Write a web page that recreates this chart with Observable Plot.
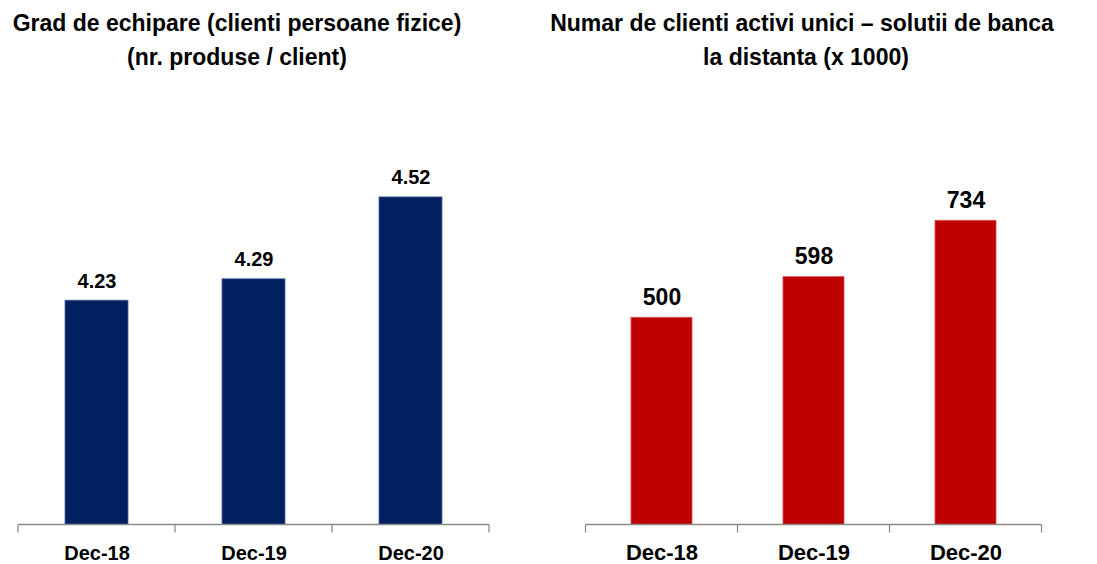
<!DOCTYPE html>
<html><head><meta charset="utf-8">
<script src="https://cdn.jsdelivr.net/npm/d3@7"></script>
<script src="https://cdn.jsdelivr.net/npm/@observablehq/plot@0.6"></script>
<style>
body{margin:0;background:#fff;}
#wrap{position:relative;width:1097px;height:564px;overflow:hidden;font-family:Arial,"Liberation Sans",sans-serif;background:#fff;}
.title{position:absolute;top:6px;font-size:23px;line-height:34px;font-weight:bold;text-align:center;white-space:nowrap;color:#000;}
.panel{position:absolute;top:100px;}
</style></head><body>
<div id="wrap">
 <div class="title" style="left:0;width:474px">Grad de echipare (clienti persoane fizice)<br>(nr. produse / client)</div>
 <div class="title" style="left:526px;width:552px">Numar de clienti activi unici – solutii de banca<br><span style="position:relative;left:4px">la distanta (x 1000)</span></div>
 <div class="panel" id="left" style="left:0"></div>
 <div class="panel" id="right" style="left:548px"></div>
</div>
<script>
const categories = ["Dec-18", "Dec-19", "Dec-20"];
const leftValues = [4.23, 4.29, 4.52];
const leftLabels = ["4.23", "4.29", "4.52"];
const rightValues = [500, 598, 734];
const rightLabels = ["500", "598", "734"];
const leftDomain = [3.6, 4.736];
const rightDomain = [0, 976];

function bandAxis(color, tickLen) {
  return (index, scales, values, dims) => {
    const x = scales.x;
    const bw = typeof x.bandwidth === "function" ? x.bandwidth() : x.bandwidth;
    const step = typeof x.step === "function" ? x.step() : bw / 0.4;
    const y0 = dims.height - dims.marginBottom;
    const cats = categories;
    const bounds = cats.map(c => x(c) + bw / 2 - step / 2);
    bounds.push(x(cats[cats.length - 1]) + bw / 2 + step / 2);
    const g = d3.create("svg:g").attr("stroke", color).attr("stroke-width", 1.3).attr("fill", "none");
    g.append("line").attr("x1", bounds[0]).attr("x2", bounds[bounds.length - 1]).attr("y1", y0).attr("y2", y0);
    g.selectAll(null).data(bounds).join("line")
      .attr("x1", d => d).attr("x2", d => d).attr("y1", y0).attr("y2", y0 + tickLen);
    return g.node();
  };
}

function panel(values, labels, domain, color, strokeColor, fontSize, tickFont, tickPad, marginLeft, marginRight) {
  const data = categories.map((c, i) => ({cat: c, value: values[i], label: labels[i]}));
  return Plot.plot({
    width: 549, height: 464, marginTop: 20, marginBottom: 39.5, marginLeft, marginRight,
    style: {fontFamily: 'Arial, "Liberation Sans", sans-serif', fontSize: tickFont + "px", fontWeight: "bold", color: "#000", background: "transparent", overflow: "visible"},
    x: {domain: categories, paddingInner: 0.6, paddingOuter: 0.3, tickSize: 0, tickPadding: tickPad, label: null},
    y: {domain, axis: null},
    marks: [
      Plot.barY(data, {x: "cat", y1: domain[0], y2: "value", fill: color, stroke: strokeColor, strokeWidth: 0.8}),
      Plot.text(data, {x: "cat", y: "value", text: "label", dy: -13, lineAnchor: "bottom", fontSize, fontWeight: "bold", fill: "#000"}),
      bandAxis("#8c8c8c", 8)
    ]
  });
}

document.getElementById("left").append(panel(leftValues, leftLabels, leftDomain, "#002060", "#4b66a0", 20, 20, 20.5, 17, 60));
document.getElementById("right").append(panel(rightValues, rightLabels, rightDomain, "#c00000", "#d85050", 23, 22, 19, 36.3, 55.3));
</script>
</body></html>
